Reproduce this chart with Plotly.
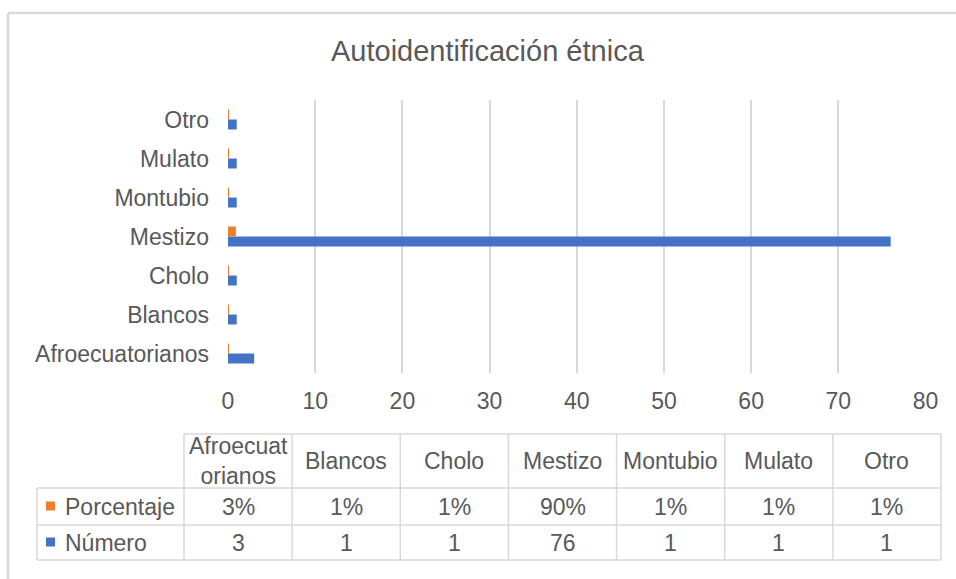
import plotly.graph_objects as go

# Data
categories = ["Afroecuatorianos", "Blancos", "Cholo", "Mestizo", "Montubio", "Mulato", "Otro"]
header_labels = ["Afroecuat<br>orianos", "Blancos", "Cholo", "Mestizo", "Montubio", "Mulato", "Otro"]
numero = [3, 1, 1, 76, 1, 1, 1]
porcentaje = [0.03, 0.01, 0.01, 0.90, 0.01, 0.01, 0.01]
x_ticks = [0, 10, 20, 30, 40, 50, 60, 70, 80]
title_text = "Autoidentificación étnica"
series_names = ["Porcentaje", "Número"]

BLUE = "#4472C4"
ORANGE = "#ED7D31"
TEXT = "#595959"
GRID = "#d9d9d9"
FONT = "Liberation Sans, Arial, sans-serif"

W, H = 956, 579
L, R, T, B = 228, 30, 100, 206
PW, PH = W - L - R, H - T - B


def px(xp):
    return (xp - L) / PW


def py(yp):
    return (T + PH - yp) / PH


fig = go.Figure()
fig.add_trace(go.Bar(y=categories, x=numero, orientation="h", name=series_names[1],
                     marker=dict(color=BLUE, line=dict(width=0))))
fig.add_trace(go.Bar(y=categories, x=porcentaje, orientation="h", name=series_names[0],
                     marker=dict(color=ORANGE, line=dict(width=0))))

shapes = []
annotations = []


def hline(x0, x1, y, color=GRID, w=1.5):
    shapes.append(dict(type="line", xref="paper", yref="paper", x0=px(x0), x1=px(x1),
                       y0=py(y), y1=py(y), line=dict(color=color, width=w)))


def vline(x, y0, y1, color=GRID, w=1.5):
    shapes.append(dict(type="line", xref="paper", yref="paper", x0=px(x), x1=px(x),
                       y0=py(y0), y1=py(y1), line=dict(color=color, width=w)))


def text(x, y, s, size=23, xanchor="center"):
    annotations.append(dict(xref="paper", yref="paper", x=px(x), y=py(y), text=s,
                            showarrow=False, xanchor=xanchor, yanchor="middle",
                            font=dict(family=FONT, size=size, color=TEXT)))


# outer chart frame
hline(8, 960, 13, color="#d9d9d9", w=2.5)
vline(8, 13, 590, color="#d9d9d9", w=2.5)

# title
text(488, 51, title_text, size=29)

# data table grid
col0, col_end = 184, 941
cw = (col_end - col0) / len(categories)
cols = [col0 + i * cw for i in range(len(categories) + 1)]
row_top, row_h, row_p, row_n = 434, 488, 525, 560
hline(col0, col_end, row_top)
for yy in (row_h, row_p, row_n):
    hline(37, col_end, yy)
for xx in cols:
    vline(xx, row_top, row_n)
vline(37, row_h, row_n)

# table header and values
for i, lab in enumerate(header_labels):
    cx = (cols[i] + cols[i + 1]) / 2
    text(cx, 461, lab, size=23)
    text(cx, 507, f"{porcentaje[i]:.0%}", size=23)
    text(cx, 543, str(numero[i]), size=23)

# legend keys in row headers
for yc, color, name in ((506, ORANGE, series_names[0]), (542, BLUE, series_names[1])):
    shapes.append(dict(type="rect", xref="paper", yref="paper", x0=px(46), x1=px(55),
                       y0=py(yc + 4.5), y1=py(yc - 4.5), fillcolor=color, line=dict(width=0)))
    text(63, yc + 1, name, size=23, xanchor="left")

fig.update_layout(
    width=W, height=H,
    margin=dict(l=L, r=R, t=T, b=B),
    paper_bgcolor="white", plot_bgcolor="white",
    barmode="group", bargap=0.487, bargroupgap=0,
    showlegend=False,
    font=dict(family=FONT, color=TEXT, size=23),
    shapes=shapes, annotations=annotations,
    xaxis=dict(range=[0, 80.05], tickvals=x_ticks, showgrid=True, gridcolor=GRID, gridwidth=1.5,
               zeroline=False, showline=False, ticks="", ticklabelstandoff=12,
               tickfont=dict(size=23, color=TEXT)),
    yaxis=dict(categoryorder="array", categoryarray=categories, range=[-0.5, 6.5],
               showgrid=False, zeroline=False, showline=False, ticks="",
               ticklabelstandoff=18, tickfont=dict(size=23, color=TEXT)),
)

fig.write_html("out.html")
